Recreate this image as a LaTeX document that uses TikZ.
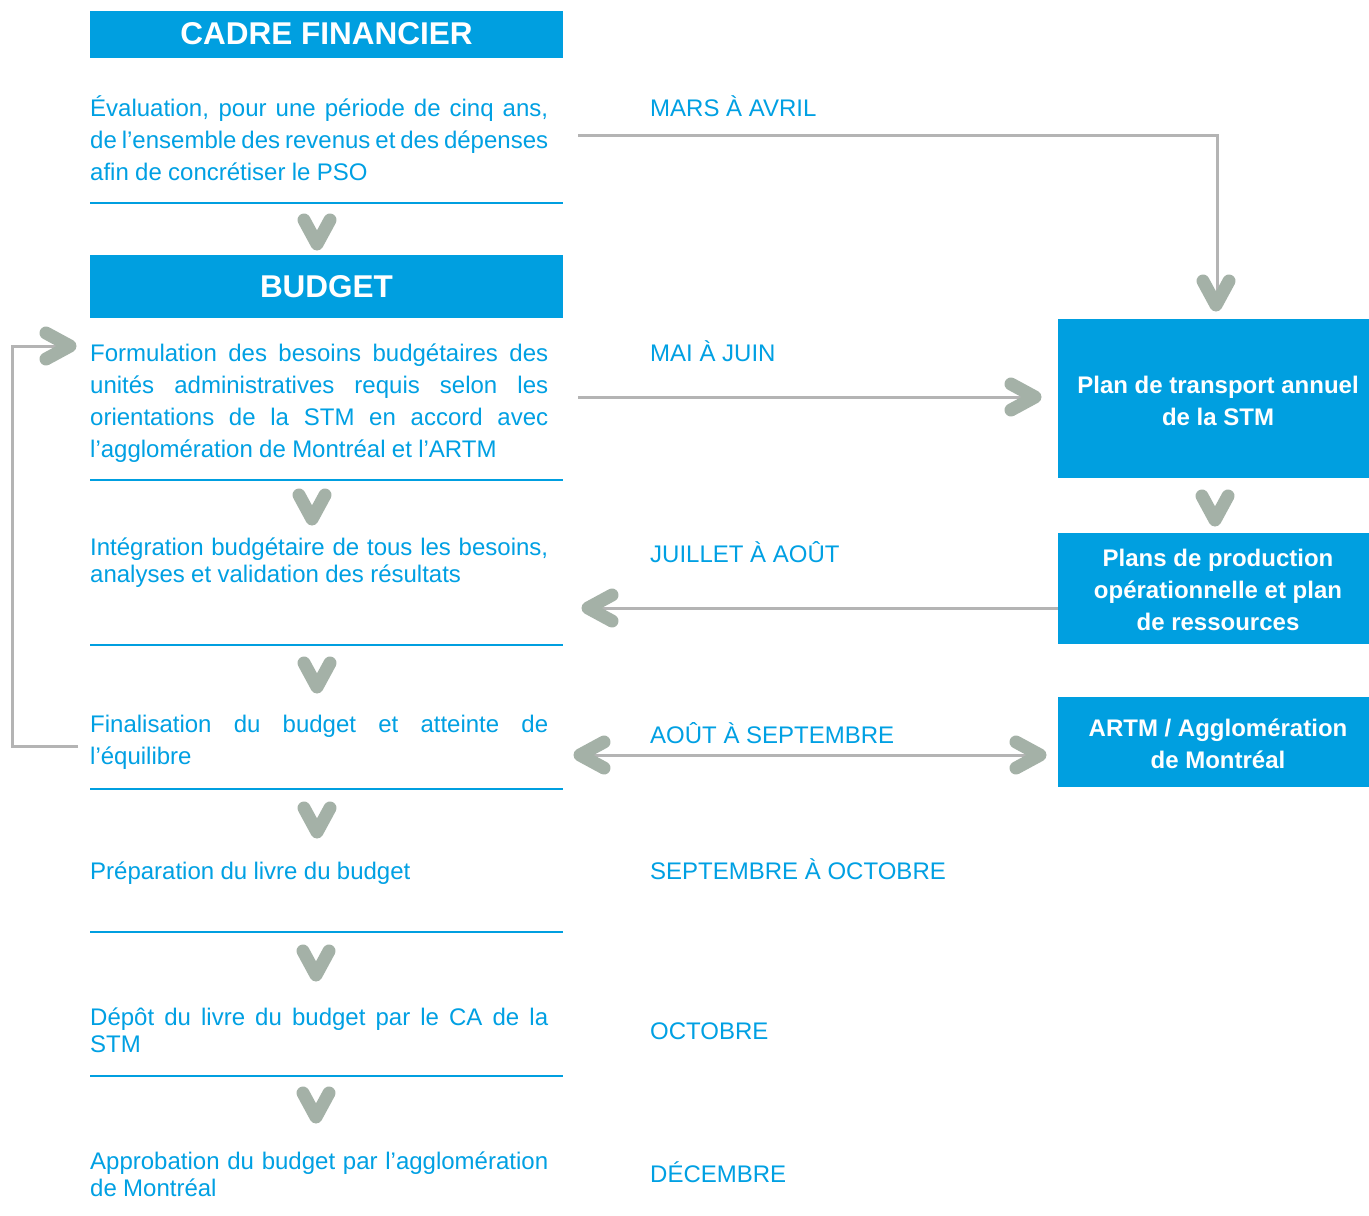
\documentclass[tikz,border=0pt]{standalone}
\usepackage{fontspec}
\setmainfont{Liberation Sans}
\newfontfamily\bodyfont{Liberation Sans}[WordSpace={0.95,1.6,1.3}]
\definecolor{stmblue}{HTML}{009FE0}
\definecolor{txtblue}{HTML}{00A0E3}
\definecolor{conn}{HTML}{B4B4B4}
\definecolor{chevc}{HTML}{A4B1A7}
\tikzset{
  titlebox/.style={fill=stmblue, text=white, inner sep=0pt, minimum width=473pt,
    font=\bfseries\fontsize{31.5}{36}\selectfont},
  sidebox/.style={fill=stmblue, inner sep=0pt, minimum width=320pt},
  sidetext/.style={text=white, inner sep=0pt, align=center,
    font=\bfseries\fontsize{24}{32}\selectfont},
  bodytext/.style={text=txtblue, inner sep=0pt, anchor=base west, text width=458pt,
    align=justify, font=\bodyfont\fontsize{24}{32}\selectfont},
  bodytight/.style={bodytext, font=\bodyfont\fontsize{24}{27}\selectfont},
  monthtext/.style={text=txtblue, inner sep=0pt, anchor=base west,
    font=\fontsize{24}{28}\selectfont},
  sep/.style={draw=stmblue, line width=2.5pt},
  connector/.style={draw=conn, line width=3pt},
  chevline/.style={draw=chevc, line width=13pt, line cap=round, line join=round},
  chevdown/.pic={\path[chevline] (-13,-12) -- (0,12) -- (13,-12);},
  chevright/.pic={\path[chevline] (-12,-13) -- (12,0) -- (-12,13);},
  chevleft/.pic={\path[chevline] (12,-13) -- (-12,0) -- (12,13);},
}
\begin{document}
\begin{tikzpicture}[x=1pt,y=-1pt]
\useasboundingbox[fill=white] (0,0) rectangle (1369,1216);
\hyphenpenalty=10000
\tolerance=10000
% left column titles
\node[titlebox, minimum height=47pt] (cadre) at (326.5,34.5) {};
\node[text=white, inner sep=0pt, font=\bfseries\fontsize{31.5}{36}\selectfont] (cadret) at ([yshift=1pt]cadre.center) {CADRE FINANCIER};
\node[titlebox, minimum height=63pt] (budget) at (326.5,286.5) {BUDGET};
% body texts
\node[bodytext] (t1) at (90,116) {Évaluation, pour une période de cinq ans,\linebreak de l’ensemble des revenus et des dépenses\linebreak afin de concrétiser le PSO};
\node[bodytext] (t2) at (90,361) {Formulation des besoins budgétaires des\linebreak unités administratives requis selon les\linebreak orientations de la STM en accord avec\linebreak l’agglomération de Montréal et l’ARTM};
\node[bodytight] (t3) at (90,555) {Intégration budgétaire de tous les besoins,\linebreak analyses et validation des résultats};
\node[bodytext] (t4) at (90,732) {Finalisation du budget et atteinte de\linebreak l’équilibre};
\node[bodytext] (t5) at (90,879) {Préparation du livre du budget};
\node[bodytight] (t6) at (90,1025) {Dépôt du livre du budget par le CA de la\linebreak STM};
\node[bodytight] (t7) at (90,1169) {Approbation du budget par l’agglomération\linebreak de Montréal};
% separators
\foreach \yy in {203,480,645,789,932,1076} \draw[sep] (90,\yy) -- (563,\yy);
% months
\node[monthtext] (m1) at (650,116) {MARS À AVRIL};
\node[monthtext] (m2) at (650,361) {MAI À JUIN};
\node[monthtext] (m3) at (650,562) {JUILLET À AOÛT};
\node[monthtext] (m4) at (650,743) {AOÛT À SEPTEMBRE};
\node[monthtext] (m5) at (650,879) {SEPTEMBRE À OCTOBRE};
\node[monthtext] (m6) at (650,1039) {OCTOBRE};
\node[monthtext] (m7) at (650,1182) {DÉCEMBRE};
% side boxes
\node[sidebox, minimum height=159pt] (plan) at (1218,398.5) {};
\node[sidetext] (plant) at ([yshift=-2pt]plan.center) {Plan de transport annuel\\de la STM};
\node[sidebox, minimum height=111pt] (prod) at (1218,588.5) {};
\node[sidetext] (prodt) at ([yshift=-1pt]prod.center) {Plans de production\\opérationnelle et plan\\de ressources};
\node[sidebox, minimum height=90pt] (artm) at (1218,742) {};
\node[sidetext] (artmt) at ([yshift=-2pt]artm.center) {ARTM / Agglomération\\de Montréal};
% down chevrons between steps
\pic at (317,232) {chevdown};
\pic at (312,507) {chevdown};
\pic at (317,675) {chevdown};
\pic at (317,820) {chevdown};
\pic at (316,963) {chevdown};
\pic at (316,1105) {chevdown};
\pic at (1215,508) {chevdown};
% connector coordinates
\coordinate (a1) at (578,135);
\coordinate (a2) at (1217,135);
\coordinate (a3) at (1217,293);
\coordinate (b1) at (578,397);
\coordinate (b2) at (1023,397);
\coordinate (c1) at (600,608);
\coordinate (d1) at (592,755);
\coordinate (d2) at (1028,755);
\coordinate (e1) at (78,746);
\coordinate (e2) at (12,746);
\coordinate (e3) at (12,346);
\coordinate (e4) at (58,346);
% connectors
\draw[connector] (a1) -- (a2) -- (a3);
\pic at (1216,293) {chevdown};
\draw[connector] (b1) -- (b2);
\pic at (b2) {chevright};
\draw[connector] (prod.west |- c1) -- (c1);
\pic at (c1) {chevleft};
\draw[connector] (d1) -- (d2);
\pic at (d1) {chevleft};
\pic at (d2) {chevright};
\draw[connector] (e1) -- (e2) -- (e3) -- (e4);
\pic at (e4) {chevright};
\end{tikzpicture}
\end{document}
